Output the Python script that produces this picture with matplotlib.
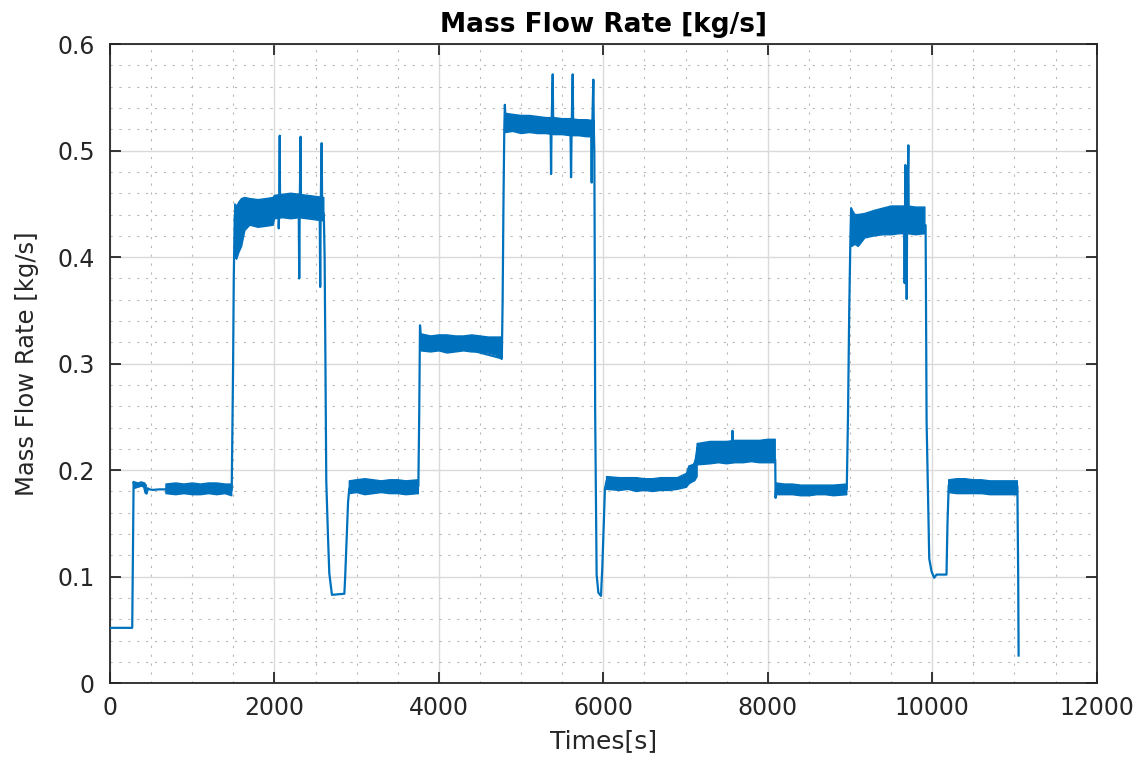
import numpy as np
import matplotlib
matplotlib.use("Agg")
import matplotlib.pyplot as plt
from matplotlib.ticker import MultipleLocator

nan = np.nan

# centre trace of the signal: steps, transitions and spikes
trace_t = [0, 270, 287, 300, 320, 350, 380, 410, 430, 445, 460, 480, 520, 600, 680,
           1480, 1490, 1497, 1505, 1517,
           2050, 2052, 2058, 2064, 2068,
           2295, 2301, 2307, 2318, 2323,
           2550, 2556, 2562, 2574, 2580,
           2600, 2610, 2620, 2630, 2650, 2667, 2680, 2699, 2850, 2860, 2875, 2895, 2910,
           3750, 3760, 3770, 3780,
           4765, 4775, 4785, 4795, 4802, 4810,
           5358, 5364, 5370, 5384, 5390,
           5600, 5607, 5614, 5627, 5633,
           5852, 5858, 5864, 5878, 5884,
           5890, 5895, 5900, 5918, 5939, 5971, 5987, 6005, 6019, 6039,
           7010, 7140,
           7565, 7570, 7575,
           8090, 8095, 8100,
           8960, 8975, 8990, 9005, 9013, 9020,
           9660, 9664, 9668, 9672, 9676,
           9685, 9689, 9694, 9709, 9714,
           9910, 9919, 9931, 9951, 9963, 9991, 10023, 10052, 10173, 10185, 10200,
           11035, 11045, 11050]
trace_v = [0.052, 0.052, 0.189, 0.184, 0.187, 0.185, 0.188, 0.186, 0.179, 0.178, 0.183, 0.182, 0.1815, 0.182, 0.182,
           0.181, 0.25, 0.30, 0.38, 0.44,
           0.445, 0.427, 0.445, 0.514, 0.445,
           0.447, 0.380, 0.447, 0.513, 0.447,
           0.446, 0.372, 0.446, 0.507, 0.446,
           0.44, 0.40, 0.30, 0.19, 0.14, 0.103, 0.095, 0.083, 0.084, 0.10, 0.13, 0.17, 0.183,
           0.185, 0.25, 0.336, 0.325,
           0.305, 0.36, 0.45, 0.52, 0.543, 0.53,
           0.524, 0.478, 0.524, 0.5716, 0.524,
           0.521, 0.475, 0.521, 0.5716, 0.521,
           0.52, 0.47, 0.52, 0.5666, 0.52,
           0.50, 0.40, 0.256, 0.102, 0.085, 0.082, 0.109, 0.15, 0.1825, 0.19,
           0.19, 0.212,
           0.222, 0.237, 0.220,
           0.21, 0.174, 0.183,
           0.182, 0.25, 0.35, 0.42, 0.446, 0.43,
           0.435, 0.3756, 0.435, 0.4865, 0.435,
           0.435, 0.3607, 0.435, 0.505, 0.435,
           0.43, 0.43, 0.2454, 0.166, 0.117, 0.105, 0.099, 0.102, 0.102, 0.15, 0.186,
           0.185, 0.10, 0.026]

# noise envelope of each plateau (NaN separates plateaus)
band_t = [300, 340, 380, 420, 440, nan,
          680, 800, 900, 1000, 1100, 1200, 1300, 1400, 1480, nan,
          1517, 1540, 1570, 1600, 1640, 1700, 1800, 1900, 1985, 2000, 2100, 2200, 2300, 2400, 2500, 2600, nan,
          2910, 3000, 3100, 3200, 3300, 3400, 3500, 3600, 3750, nan,
          3780, 3900, 4000, 4100, 4200, 4300, 4400, 4500, 4600, 4700, 4765, nan,
          4810, 4900, 5000, 5100, 5200, 5300, 5400, 5500, 5600, 5700, 5800, 5890, nan,
          6039, 6200, 6300, 6400, 6500, 6600, 6700, 6800, 6900, 7010, 7040, 7080, 7110, 7140, nan,
          7140, 7300, 7400, 7500, 7600, 7700, 7800, 7900, 8000, 8090, nan,
          8100, 8200, 8300, 8400, 8500, 8600, 8700, 8800, 8960, nan,
          9020, 9060, 9100, 9180, 9300, 9400, 9500, 9600, 9700, 9800, 9910, nan,
          10200, 10300, 10400, 10500, 10600, 10700, 10800, 10900, 11035]
band_lo = [0.183, 0.184, 0.185, 0.184, 0.179, nan,
           0.178, 0.177, 0.178, 0.177, 0.177, 0.178, 0.177, 0.178, 0.176, nan,
           0.400, 0.398, 0.405, 0.410, 0.425, 0.430, 0.428, 0.429, 0.430, 0.436, 0.437, 0.436, 0.437, 0.436, 0.435, 0.434, nan,
           0.178, 0.179, 0.177, 0.178, 0.179, 0.178, 0.178, 0.177, 0.178, nan,
           0.312, 0.311, 0.312, 0.310, 0.311, 0.312, 0.311, 0.311, 0.310, 0.308, 0.304, nan,
           0.517, 0.518, 0.516, 0.517, 0.516, 0.516, 0.515, 0.515, 0.514, 0.514, 0.513, 0.513, nan,
           0.182, 0.181, 0.182, 0.180, 0.181, 0.180, 0.181, 0.181, 0.182, 0.184, 0.187, 0.189, 0.190, 0.194, nan,
           0.205, 0.206, 0.207, 0.206, 0.207, 0.207, 0.208, 0.207, 0.207, 0.207, nan,
           0.177, 0.177, 0.177, 0.176, 0.176, 0.177, 0.177, 0.176, 0.177, nan,
           0.410, 0.412, 0.410, 0.418, 0.420, 0.421, 0.421, 0.422, 0.422, 0.421, 0.422, nan,
           0.179, 0.178, 0.178, 0.178, 0.178, 0.177, 0.177, 0.177, 0.177]
band_hi = [0.189, 0.188, 0.189, 0.188, 0.186, nan,
           0.187, 0.188, 0.187, 0.188, 0.187, 0.188, 0.188, 0.187, 0.187, nan,
           0.450, 0.448, 0.452, 0.455, 0.456, 0.455, 0.454, 0.455, 0.456, 0.458, 0.459, 0.460, 0.459, 0.458, 0.457, 0.456, nan,
           0.190, 0.191, 0.192, 0.191, 0.190, 0.191, 0.191, 0.190, 0.191, nan,
           0.328, 0.326, 0.327, 0.327, 0.326, 0.326, 0.327, 0.326, 0.325, 0.325, 0.325, nan,
           0.535, 0.534, 0.533, 0.533, 0.532, 0.531, 0.531, 0.530, 0.530, 0.529, 0.529, 0.528, nan,
           0.194, 0.193, 0.193, 0.193, 0.192, 0.192, 0.193, 0.193, 0.193, 0.197, 0.204, 0.205, 0.206, 0.222, nan,
           0.225, 0.227, 0.227, 0.227, 0.228, 0.228, 0.228, 0.228, 0.229, 0.229, nan,
           0.188, 0.187, 0.187, 0.186, 0.186, 0.186, 0.186, 0.186, 0.187, nan,
           0.445, 0.440, 0.440, 0.441, 0.444, 0.446, 0.448, 0.448, 0.448, 0.447, 0.447, nan,
           0.191, 0.192, 0.192, 0.191, 0.191, 0.190, 0.190, 0.190, 0.190]

xticks = [0, 2000, 4000, 6000, 8000, 10000, 12000]
xtick_labels = ['0', '2000', '4000', '6000', '8000', '10000', '12000']
yticks = [0, 0.1, 0.2, 0.3, 0.4, 0.5, 0.6]
ytick_labels = ['0', '0.1', '0.2', '0.3', '0.4', '0.5', '0.6']

blue = '#0072BD'
dark = '#262626'

fig = plt.figure(figsize=(11.46, 7.6), dpi=100)
ax = fig.add_axes([0.096, 0.101, 0.861, 0.841])

ax.fill_between(band_t, band_lo, band_hi, color=blue, lw=1.0, zorder=3)
ax.plot(trace_t, trace_v, color=blue, lw=1.6, zorder=4)

ax.set_xlim(0, 12000)
ax.set_ylim(0, 0.6)
ax.set_xticks(xticks)
ax.set_xticklabels(xtick_labels)
ax.set_yticks(yticks)
ax.set_yticklabels(ytick_labels)
ax.xaxis.set_minor_locator(MultipleLocator(500))
ax.yaxis.set_minor_locator(MultipleLocator(0.02))

ax.grid(which='major', color='#DADADA', lw=1.0, ls='-', zorder=0)
ax.grid(which='minor', color='#B8B8B8', lw=0.8, ls=(0, (2, 6)), zorder=0)
ax.set_axisbelow(True)

ax.tick_params(which='major', direction='in', length=8, width=1.3, color=dark,
               top=True, right=True, labelsize=17, labelcolor=dark)
ax.tick_params(axis='x', pad=9)
ax.tick_params(axis='y', pad=11)
ax.tick_params(which='minor', length=0)
for s in ax.spines.values():
    s.set_color(dark)
    s.set_linewidth(1.3)

ax.set_title('Mass Flow Rate [kg/s]', fontsize=19, fontweight='bold', color='black', pad=9)
ax.set_xlabel('Times[s]', fontsize=18, color=dark, labelpad=7)
ax.set_ylabel('Mass Flow Rate [kg/s]', fontsize=17.5, color=dark, labelpad=13)

fig.savefig('out.png', dpi=100)
